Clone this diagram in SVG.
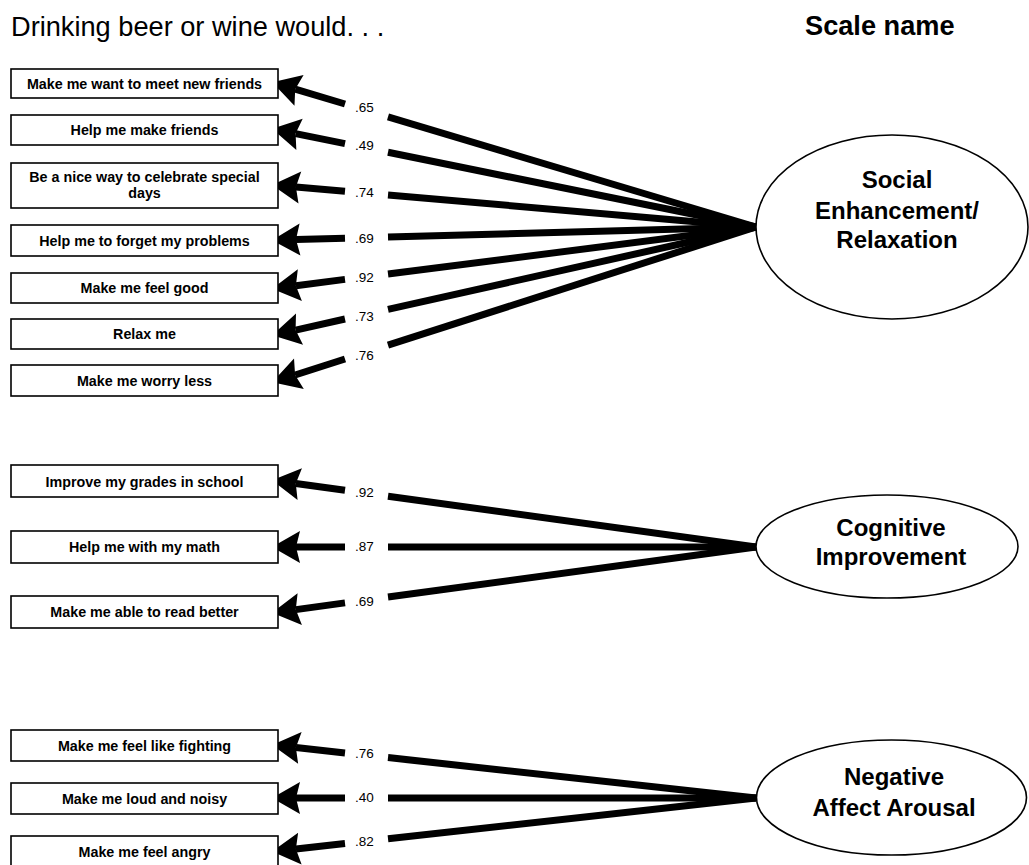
<svg xmlns="http://www.w3.org/2000/svg" width="1029" height="865" viewBox="0 0 1029 865">
<style>
.box{fill:#fff;stroke:#000;stroke-width:1.6}
.bt{font-family:"Liberation Sans",Arial,sans-serif;font-weight:bold;font-size:14.3px;text-anchor:middle;fill:#000}
.el{fill:#fff;stroke:#000;stroke-width:1.6}
.et{font-family:"Liberation Sans",Arial,sans-serif;font-weight:bold;font-size:24px;text-anchor:middle;fill:#000}
.ln{stroke:#000;stroke-width:7;fill:none;stroke-linecap:butt}
.ar{stroke:#000;stroke-width:7;fill:none;stroke-linecap:butt;marker-end:url(#ah)}
.lb{font-family:"Liberation Sans",Arial,sans-serif;font-size:13.5px;fill:#000}
</style>
<defs>
<marker id="ah" markerUnits="userSpaceOnUse" markerWidth="40" markerHeight="40" refX="3" refY="0" viewBox="-5 -15 30 30" orient="auto" overflow="visible">
<path d="M0,-12 L21,0 L0,12 L3,0 Z" fill="#000"/>
</marker>
</defs>
<rect width="1029" height="865" fill="#fff"/>
<text x="11" y="36" font-family="'Liberation Sans',Arial,sans-serif" font-size="27.2">Drinking beer or wine would. . .</text>
<text x="805" y="35" font-family="'Liberation Sans',Arial,sans-serif" font-size="27.2" font-weight="bold">Scale name</text>

<g id="connectors">
<path class="ln" d="M388,116.9 L756,227"/><path class="ar" d="M345,104 L295.2,89.2"/>
<path class="ln" d="M388,152.3 L756,227"/><path class="ar" d="M345,143.6 L295.6,133.6"/>
<path class="ln" d="M388,195 L756,227"/><path class="ar" d="M345,191.3 L295.9,187.1"/>
<path class="ln" d="M388,237 L756,227"/><path class="ar" d="M345,238.2 L296,239.5"/>
<path class="ln" d="M388,274 L756,227"/><path class="ar" d="M345,279.4 L295.9,285.7"/>
<path class="ln" d="M388,309.4 L756,227"/><path class="ar" d="M345,319 L295.6,330.1"/>
<path class="ln" d="M388,345.2 L756,227"/><path class="ar" d="M345,359 L295.1,375"/>

<path class="ln" d="M388,496.2 L756,547"/><path class="ar" d="M345,490.3 L295.8,483.5"/>
<path class="ln" d="M388,547 L756,547"/><path class="ar" d="M345,547 L296,547"/>
<path class="ln" d="M388,597 L756,547"/><path class="ar" d="M345,602.9 L295.8,609.6"/>

<path class="ln" d="M388,757.6 L756,798"/><path class="ar" d="M345,752.9 L295.9,747.5"/>
<path class="ln" d="M388,798 L756,798"/><path class="ar" d="M345,798 L296,798"/>
<path class="ln" d="M388,838.8 L756,798"/><path class="ar" d="M345,843.6 L295.9,849"/>

<text class="lb" x="355" y="112">.65</text>
<text class="lb" x="355" y="150">.49</text>
<text class="lb" x="355" y="197">.74</text>
<text class="lb" x="355" y="243">.69</text>
<text class="lb" x="355" y="282">.92</text>
<text class="lb" x="355" y="321">.73</text>
<text class="lb" x="355" y="360">.76</text>
<text class="lb" x="355" y="497">.92</text>
<text class="lb" x="355" y="551">.87</text>
<text class="lb" x="355" y="606">.69</text>
<text class="lb" x="355" y="758">.76</text>
<text class="lb" x="355" y="802">.40</text>
<text class="lb" x="355" y="846">.82</text>
</g>

<g id="s1"><rect class="box" x="11" y="69" width="267" height="29"/><text class="bt" x="144.5" y="88.5">Make me want to meet new friends</text></g>
<g id="s2"><rect class="box" x="11" y="115" width="267" height="30"/><text class="bt" x="144.5" y="135">Help me make friends</text></g>
<g id="s3"><rect class="box" x="11" y="163" width="267" height="45"/><text class="bt" x="144.5" y="181.5">Be a nice way to celebrate special</text><text class="bt" x="144.5" y="197.5">days</text></g>
<g id="s4"><rect class="box" x="11" y="225" width="267" height="31"/><text class="bt" x="144.5" y="245.5">Help me to forget my problems</text></g>
<g id="s5"><rect class="box" x="11" y="273" width="267" height="30"/><text class="bt" x="144.5" y="293">Make me feel good</text></g>
<g id="s6"><rect class="box" x="11" y="319" width="267" height="30"/><text class="bt" x="144.5" y="339">Relax me</text></g>
<g id="s7"><rect class="box" x="11" y="365" width="267" height="31"/><text class="bt" x="144.5" y="385.5">Make me worry less</text></g>

<g id="c1"><rect class="box" x="11" y="465" width="267" height="32"/><text class="bt" x="144.5" y="486.5">Improve my grades in school</text></g>
<g id="c2"><rect class="box" x="11" y="531" width="267" height="32"/><text class="bt" x="144.5" y="552">Help me with my math</text></g>
<g id="c3"><rect class="box" x="11" y="596" width="267" height="32"/><text class="bt" x="144.5" y="617">Make me able to read better</text></g>

<g id="n1"><rect class="box" x="11" y="730" width="267" height="31"/><text class="bt" x="144.5" y="750.5">Make me feel like fighting</text></g>
<g id="n2"><rect class="box" x="11" y="783" width="267" height="31"/><text class="bt" x="144.5" y="803.5">Make me loud and noisy</text></g>
<g id="n3"><rect class="box" x="11" y="836" width="267" height="32"/><text class="bt" x="144.5" y="856.5">Make me feel angry</text></g>

<g id="social"><ellipse class="el" cx="892" cy="227" rx="136" ry="92"/><text class="et" x="897" y="188">Social</text><text class="et" x="897" y="219">Enhancement/</text><text class="et" x="897" y="248">Relaxation</text></g>
<g id="cognitive"><ellipse class="el" cx="887" cy="546.5" rx="131" ry="51.5"/><text class="et" x="891" y="536">Cognitive</text><text class="et" x="891" y="565">Improvement</text></g>
<g id="negative"><ellipse class="el" cx="891.5" cy="797.5" rx="135" ry="57.5"/><text class="et" x="894" y="785">Negative</text><text class="et" x="894" y="816">Affect Arousal</text></g>
</svg>
